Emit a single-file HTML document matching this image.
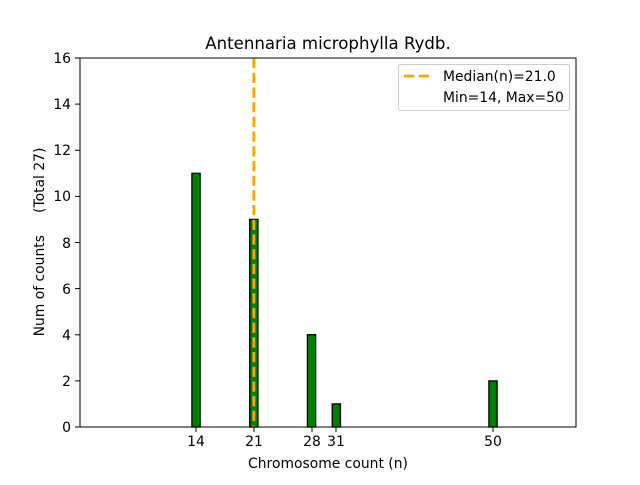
<!DOCTYPE html>
<html><head><meta charset="utf-8"><style>body{margin:0;background:#fff}</style></head><body>
<svg width="640" height="480" xmlns="http://www.w3.org/2000/svg" font-family="DejaVu Sans, Liberation Sans, sans-serif">
<rect width="640" height="480" fill="#fff"/>
<g fill="green" stroke="#000" stroke-width="1.3">
<rect x="191.9" y="173.3" width="8.25" height="253.7"/>
<rect x="249.7" y="219.4" width="8.25" height="207.6"/>
<rect x="307.4" y="334.7" width="8.25" height="92.3"/>
<rect x="332.2" y="403.9" width="8.25" height="23.1"/>
<rect x="488.9" y="380.9" width="8.25" height="46.1"/>
</g>
<line x1="253.8" y1="58" x2="253.8" y2="427" stroke="#ffa500" stroke-width="2.78" stroke-dasharray="10.3,4.4"/>
<rect x="80" y="58" width="496" height="369" fill="none" stroke="#000" stroke-width="1"/>
<g stroke="#000">
<line x1="196" y1="427" x2="196" y2="432"/><line x1="254" y1="427" x2="254" y2="432"/>
<line x1="312" y1="427" x2="312" y2="432"/><line x1="336" y1="427" x2="336" y2="432"/>
<line x1="493" y1="427" x2="493" y2="432"/>
<line x1="75" y1="427" x2="80" y2="427"/><line x1="75" y1="380.9" x2="80" y2="380.9"/>
<line x1="75" y1="334.8" x2="80" y2="334.8"/><line x1="75" y1="288.6" x2="80" y2="288.6"/>
<line x1="75" y1="242.5" x2="80" y2="242.5"/><line x1="75" y1="196.4" x2="80" y2="196.4"/>
<line x1="75" y1="150.3" x2="80" y2="150.3"/><line x1="75" y1="104.1" x2="80" y2="104.1"/>
<line x1="75" y1="58" x2="80" y2="58"/>
</g>
<g font-size="13.9" text-anchor="middle">
<text x="196" y="446">14</text><text x="254" y="446">21</text><text x="312" y="446">28</text>
<text x="336" y="446">31</text><text x="493" y="446">50</text>
<text x="328" y="468">Chromosome count (n)</text>
</g>
<g font-size="13.9" text-anchor="end">
<text x="71" y="432">0</text><text x="71" y="386">2</text><text x="71" y="340">4</text>
<text x="71" y="294">6</text><text x="71" y="248">8</text><text x="71" y="201">10</text>
<text x="71" y="155">12</text><text x="71" y="109">14</text><text x="71" y="63">16</text>
</g>
<text transform="translate(44,242) rotate(-90)" font-size="13.9" text-anchor="middle" xml:space="preserve">Num of counts     (Total 27)</text>
<text x="328" y="49" font-size="16.6" text-anchor="middle">Antennaria microphylla Rydb.</text>
<rect x="398.5" y="64.5" width="171" height="46" rx="2" fill="#fff" stroke="#ccc"/>
<line x1="404" y1="76" x2="432" y2="76" stroke="#ffa500" stroke-width="2.78" stroke-dasharray="10.3,4.4"/>
<text x="443" y="81" font-size="13.9">Median(n)=21.0</text>
<text x="443" y="102" font-size="13.9">Min=14, Max=50</text>
</svg>
</body></html>
